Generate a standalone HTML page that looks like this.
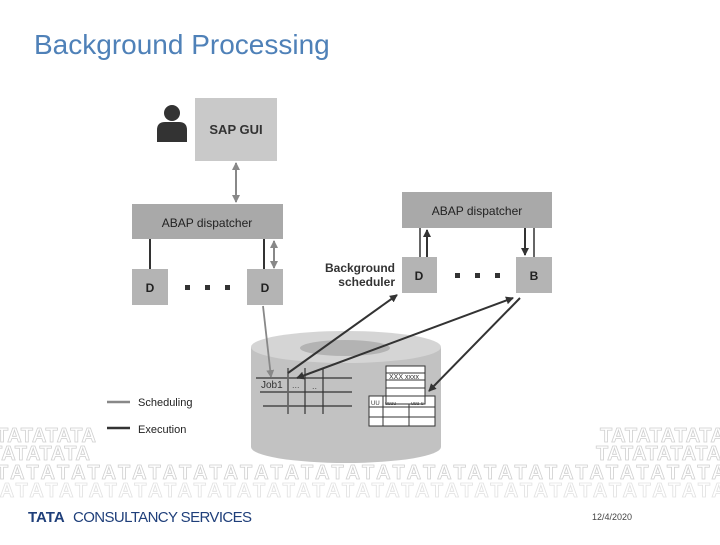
<!DOCTYPE html>
<html><head><meta charset="utf-8"><style>
html,body{margin:0;padding:0;background:#fff;}
body{width:720px;height:540px;overflow:hidden;position:relative;font-family:"Liberation Sans",sans-serif;}
</style></head><body>
<svg width="720" height="540" viewBox="0 0 720 540" xmlns="http://www.w3.org/2000/svg" font-family="Liberation Sans, sans-serif">
<defs>
<marker id="ak" markerWidth="8" markerHeight="8" refX="7" refY="4" orient="auto" markerUnits="userSpaceOnUse"><path d="M0,0 L8,4 L0,8 z" fill="#333"/></marker>
<marker id="ag" markerWidth="8" markerHeight="8" refX="7" refY="4" orient="auto" markerUnits="userSpaceOnUse"><path d="M0,0 L8,4 L0,8 z" fill="#888"/></marker>
<marker id="aks" markerWidth="8" markerHeight="8" refX="1" refY="4" orient="auto" markerUnits="userSpaceOnUse"><path d="M8,0 L0,4 L8,8 z" fill="#333"/></marker>
<marker id="ags" markerWidth="8" markerHeight="8" refX="1" refY="4" orient="auto" markerUnits="userSpaceOnUse"><path d="M8,0 L0,4 L8,8 z" fill="#888"/></marker>
</defs>
<text x="34" y="54" font-size="28" fill="#4f81b8">Background Processing</text>

<!-- TATA pattern -->
<g font-size="20" fill="none" stroke="#d0d0d0" stroke-width="0.8" font-family="Liberation Sans, sans-serif" font-weight="bold">
<text x="-4" y="442" textLength="100">TATATATA</text>
<text x="-10" y="460" textLength="100">TATATATA</text>
<text x="600" y="442" textLength="125">TATATATATA</text>
<text x="596" y="460" textLength="125">TATATATATA</text>
<text x="-4" y="479" textLength="730">TATATATATATATATATATATATATATATATATATATATATATATATA</text>
<text x="-14" y="497" stroke="#e2e2e2" textLength="740">TATATATATATATATATATATATATATATATATATATATATATATATATA</text>
</g>

<!-- person -->
<circle cx="172" cy="113" r="8" fill="#333"/>
<path d="M157,142 L157,130 Q157,122 165,122 L179,122 Q187,122 187,130 L187,142 Z" fill="#333"/>

<rect x="195" y="98" width="82" height="63" fill="#c9c9c9"/>
<text x="236" y="134" font-size="13" font-weight="bold" fill="#333" text-anchor="middle">SAP GUI</text>
<line x1="236" y1="163" x2="236" y2="202" stroke="#888" stroke-width="2" marker-end="url(#ag)" marker-start="url(#ags)"/>

<rect x="132" y="204" width="151" height="35" fill="#a9a9a9"/>
<text x="207" y="227" font-size="12" fill="#222" text-anchor="middle">ABAP dispatcher</text>
<line x1="150" y1="239" x2="150" y2="269" stroke="#333" stroke-width="2"/>
<line x1="264" y1="239" x2="264" y2="269" stroke="#333" stroke-width="2"/>
<line x1="274" y1="241" x2="274" y2="268" stroke="#888" stroke-width="2" marker-end="url(#ag)" marker-start="url(#ags)"/>
<rect x="132" y="269" width="36" height="36" fill="#b4b4b4"/>
<rect x="247" y="269" width="36" height="36" fill="#b4b4b4"/>
<text x="150" y="292" font-size="12" font-weight="bold" fill="#222" text-anchor="middle">D</text>
<text x="265" y="292" font-size="12" font-weight="bold" fill="#222" text-anchor="middle">D</text>
<rect x="185" y="285" width="5" height="5" fill="#333"/><rect x="205" y="285" width="5" height="5" fill="#333"/><rect x="225" y="285" width="5" height="5" fill="#333"/>

<rect x="402" y="192" width="150" height="36" fill="#a9a9a9"/>
<text x="477" y="215" font-size="12" fill="#222" text-anchor="middle">ABAP dispatcher</text>
<line x1="420" y1="228" x2="420" y2="257" stroke="#333" stroke-width="1.5"/>
<line x1="427" y1="257" x2="427" y2="230" stroke="#333" stroke-width="2" marker-end="url(#ak)"/>
<line x1="525" y1="228" x2="525" y2="255" stroke="#333" stroke-width="2" marker-end="url(#ak)"/>
<line x1="534" y1="228" x2="534" y2="257" stroke="#333" stroke-width="1.5"/>
<rect x="402" y="257" width="35" height="36" fill="#b4b4b4"/>
<rect x="516" y="257" width="36" height="36" fill="#b4b4b4"/>
<text x="419" y="280" font-size="12" font-weight="bold" fill="#222" text-anchor="middle">D</text>
<text x="534" y="280" font-size="12" font-weight="bold" fill="#222" text-anchor="middle">B</text>
<rect x="455" y="273" width="5" height="5" fill="#333"/><rect x="475" y="273" width="5" height="5" fill="#333"/><rect x="495" y="273" width="5" height="5" fill="#333"/>
<text x="395" y="272" font-size="12" font-weight="bold" fill="#333" text-anchor="end">Background</text>
<text x="395" y="286" font-size="12" font-weight="bold" fill="#333" text-anchor="end">scheduler</text>

<!-- cylinder -->
<path d="M251,347 L251,447 A95,16 0 0 0 441,447 L441,347 Z" fill="#c2c2c2"/>
<ellipse cx="346" cy="347" rx="95" ry="16" fill="#d5d5d5"/>
<ellipse cx="345" cy="348" rx="45" ry="8" fill="#b3b3b3"/>

<!-- left grid -->
<g stroke="#333" stroke-width="1.2">
<line x1="256" y1="378" x2="352" y2="378"/>
<line x1="260" y1="392" x2="352" y2="392"/>
<line x1="263" y1="406" x2="352" y2="406"/>
<line x1="288" y1="368" x2="288" y2="414" stroke="#666" stroke-width="1.8"/>
<line x1="305" y1="368" x2="305" y2="414"/>
<line x1="323" y1="368" x2="323" y2="414"/>
</g>
<text x="261" y="388" font-size="10" fill="#333">Job1</text>
<text x="292" y="388" font-size="9" fill="#555">...</text>
<text x="312" y="389" font-size="9" fill="#555">..</text>

<!-- right tables -->
<g stroke="#333" stroke-width="1" fill="#fff">
<rect x="369" y="396" width="66" height="30"/>
<line x1="369" y1="407" x2="435" y2="407"/><line x1="369" y1="417" x2="435" y2="417"/>
<line x1="383" y1="396" x2="383" y2="426"/><line x1="409" y1="396" x2="409" y2="426"/>
<rect x="386" y="366" width="39" height="38"/>
<line x1="386" y1="373" x2="425" y2="373"/><line x1="386" y1="380" x2="425" y2="380"/><line x1="386" y1="388" x2="425" y2="388"/><line x1="386" y1="396" x2="425" y2="396"/>
</g>
<text x="389" y="379" font-size="7" fill="#333">XXX xxxx</text>
<text x="371" y="405" font-size="6" fill="#333">UU</text>
<text x="385" y="405" font-size="5" fill="#333">uuuu</text>
<text x="411" y="405" font-size="5" fill="#333">uuu u</text>

<!-- connectors -->
<line x1="263" y1="306" x2="271" y2="377" stroke="#888" stroke-width="1.8" marker-end="url(#ag)"/>
<line x1="288" y1="373" x2="397" y2="295" stroke="#333" stroke-width="2" marker-end="url(#ak)"/>
<line x1="297" y1="378" x2="513" y2="298" stroke="#333" stroke-width="2" marker-end="url(#ak)" marker-start="url(#aks)"/>
<line x1="520" y1="298" x2="429" y2="391" stroke="#333" stroke-width="2" marker-end="url(#ak)"/>

<!-- legend -->
<line x1="107" y1="402" x2="130" y2="402" stroke="#888" stroke-width="2.5"/>
<text x="138" y="406" font-size="11" fill="#222">Scheduling</text>
<line x1="107" y1="428" x2="130" y2="428" stroke="#333" stroke-width="2.5"/>
<text x="138" y="433" font-size="11" fill="#222">Execution</text>

<text x="28" y="522" font-size="15" font-weight="bold" fill="#1f3f7a">TATA</text>
<text x="73" y="522" font-size="15" fill="#1f3f7a" textLength="179">CONSULTANCY SERVICES</text>
<text x="592" y="520" font-size="9" fill="#444">12/4/2020</text>
</svg>
</body></html>
